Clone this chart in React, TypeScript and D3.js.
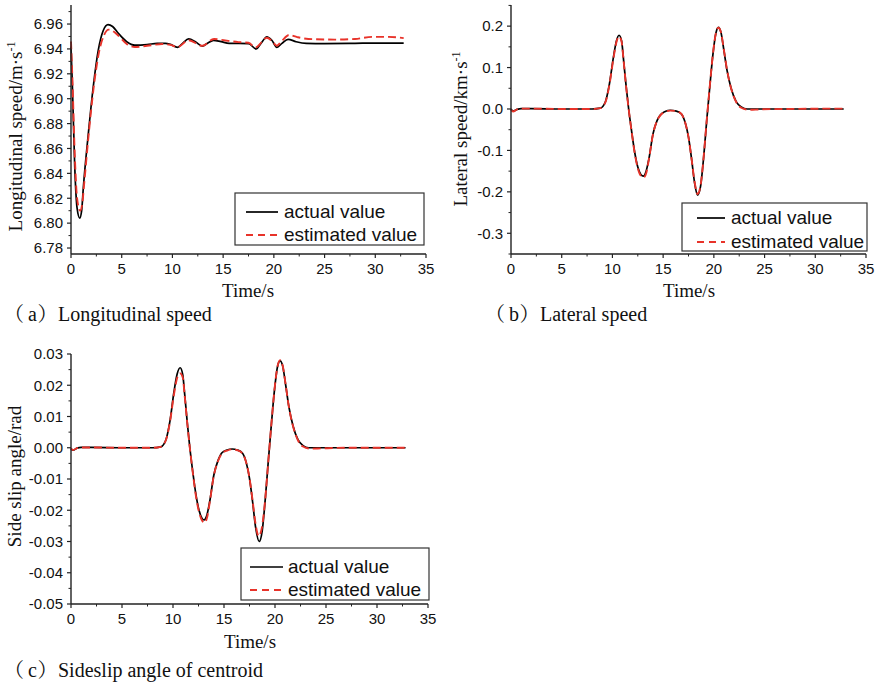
import React from 'react';
import * as d3 from 'd3';

type Pt = [number, number];

// ---------- shared axis data ----------
const X_TICKS = [0, 5, 10, 15, 20, 25, 30, 35];
const X_MINOR = [2.5, 7.5, 12.5, 17.5, 22.5, 27.5, 32.5];
const X_LABELS = ['0', '5', '10', '15', '20', '25', '30', '35'];
const LEGEND_NAMES = ['actual value', 'estimated value'];

// ---------- (a) longitudinal speed ----------
const LON_TICKS = [6.78, 6.8, 6.82, 6.84, 6.86, 6.88, 6.9, 6.92, 6.94, 6.96];
const LON_MINOR = [6.79, 6.81, 6.83, 6.85, 6.87, 6.89, 6.91, 6.93, 6.95, 6.97];
const LON_LABELS = ['6.78', '6.80', '6.82', '6.84', '6.86', '6.88', '6.90', '6.92', '6.94', '6.96'];
const lonActual: Pt[] = [
  [0, 6.942], [0.13, 6.912], [0.37, 6.845], [0.6, 6.812], [0.86, 6.804], [1.05, 6.81],
  [1.22, 6.829], [1.71, 6.872], [2.2, 6.91], [2.69, 6.939], [3.19, 6.955], [3.65, 6.9595],
  [4.1, 6.958], [4.67, 6.9525], [5.49, 6.9458], [6.3, 6.943], [7.5, 6.9435], [8.5, 6.9445],
  [9.3, 6.9445], [9.8, 6.9437], [10.5, 6.9413], [11.0, 6.9445], [11.6, 6.948], [12.3, 6.9455],
  [12.95, 6.9423], [13.5, 6.9448], [14.05, 6.9469], [14.8, 6.9458], [15.6, 6.9445], [17.5, 6.9443],
  [18.25, 6.94], [18.8, 6.9452], [19.3, 6.9498], [19.8, 6.947], [20.3, 6.9413], [20.8, 6.9445],
  [21.4, 6.9477], [22.2, 6.9458], [23.2, 6.9445], [25, 6.9443], [28, 6.9445], [30, 6.9447], [32.8, 6.9446],
];
const lonEstimated: Pt[] = [
  [0, 6.946], [0.13, 6.918], [0.37, 6.855], [0.6, 6.82], [0.9, 6.81], [1.1, 6.815],
  [1.3, 6.832], [1.75, 6.872], [2.25, 6.91], [2.75, 6.937], [3.25, 6.951], [3.7, 6.9555],
  [4.2, 6.954], [4.7, 6.9505], [5.5, 6.944], [6.3, 6.9415], [7.5, 6.9425], [9.0, 6.944],
  [9.8, 6.9432], [10.5, 6.9415], [11.6, 6.947], [12.95, 6.9425], [14.1, 6.948], [15.2, 6.9468],
  [16.5, 6.9455], [17.5, 6.945], [18.2, 6.9412], [18.8, 6.9455], [19.3, 6.949], [19.8, 6.9465],
  [20.3, 6.9426], [20.8, 6.9465], [21.5, 6.9512], [22.3, 6.9495], [23.4, 6.948], [26, 6.9475],
  [28, 6.948], [29.7, 6.9497], [31.3, 6.9497], [32.8, 6.9487],
];

// ---------- (b) lateral speed ----------
const LAT_TICKS = [-0.3, -0.2, -0.1, 0, 0.1, 0.2];
const LAT_MINOR = [-0.35, -0.25, -0.15, -0.05, 0.05, 0.15, 0.25];
const LAT_LABELS = ['-0.3', '-0.2', '-0.1', '0.0', '0.1', '0.2'];
const latActual: Pt[] = [
  [0, 0], [0.2, -0.005], [0.6, -0.001], [1.0, 0.001], [2, 0.001], [5, 0], [8, 0], [8.8, 0.002],
  [9.3, 0.017], [9.7, 0.06], [10.1, 0.125], [10.4, 0.165], [10.65, 0.178], [10.9, 0.165],
  [11.1, 0.118], [11.35, 0.055], [11.6, 0], [11.9, -0.055], [12.2, -0.105], [12.5, -0.14],
  [12.8, -0.158], [13.05, -0.162], [13.3, -0.152], [13.6, -0.12], [14.0, -0.06], [14.4, -0.028],
  [14.7, -0.015], [15.2, -0.006], [15.7, -0.003], [16.3, -0.005], [16.8, -0.012], [17.2, -0.035],
  [17.5, -0.068], [17.8, -0.12], [18.1, -0.178], [18.4, -0.208], [18.7, -0.185], [19.0, -0.115],
  [19.3, -0.027], [19.6, 0.054], [19.9, 0.13], [20.2, 0.183], [20.45, 0.197], [20.7, 0.185],
  [21.0, 0.14], [21.3, 0.093], [21.7, 0.05], [22.2, 0.018], [22.7, 0.005], [23.3, 0], [25, 0], [32.8, 0],
];
const latEstimated: Pt[] = [
  [0, -0.002], [0.2, -0.006], [0.6, -0.001], [1.0, 0.001], [2, 0.001], [5, 0], [8, 0], [8.8, 0.002],
  [9.3, 0.016], [9.7, 0.058], [10.1, 0.122], [10.4, 0.162], [10.65, 0.175], [10.9, 0.163],
  [11.1, 0.117], [11.35, 0.054], [11.6, 0], [11.9, -0.056], [12.2, -0.107], [12.5, -0.143],
  [12.8, -0.161], [13.1, -0.165], [13.35, -0.153], [13.6, -0.121], [14.0, -0.061], [14.4, -0.028],
  [14.7, -0.016], [15.2, -0.007], [15.7, -0.004], [16.3, -0.005], [16.8, -0.012], [17.2, -0.035],
  [17.5, -0.068], [17.8, -0.12], [18.1, -0.176], [18.4, -0.205], [18.7, -0.183], [19.0, -0.114],
  [19.3, -0.026], [19.6, 0.055], [19.9, 0.131], [20.2, 0.183], [20.45, 0.196], [20.7, 0.185],
  [21.0, 0.141], [21.3, 0.094], [21.7, 0.05], [22.2, 0.017], [22.7, 0.003], [23.5, -0.002],
  [24.5, -0.001], [27, 0], [32.8, 0.001],
];

// ---------- (c) sideslip angle ----------
const SLIP_TICKS = [-0.05, -0.04, -0.03, -0.02, -0.01, 0, 0.01, 0.02, 0.03];
const SLIP_MINOR = [-0.045, -0.035, -0.025, -0.015, -0.005, 0.005, 0.015, 0.025];
const SLIP_LABELS = ['-0.05', '-0.04', '-0.03', '-0.02', '-0.01', '0.00', '0.01', '0.02', '0.03'];
const slipActual: Pt[] = [
  [0, -0.0003], [0.2, -0.0008], [0.6, -0.0001], [1.0, 0.0001], [2, 0.0001], [5, 0], [8, 0],
  [8.8, 0.0003], [9.3, 0.0025], [9.7, 0.0085], [10.1, 0.018], [10.4, 0.0235], [10.7, 0.0256],
  [10.95, 0.0235], [11.15, 0.017], [11.4, 0.008], [11.65, 0], [11.95, -0.008], [12.25, -0.015],
  [12.55, -0.02], [12.85, -0.0226], [13.05, -0.0231], [13.3, -0.0218], [13.6, -0.0172],
  [14.0, -0.0088], [14.4, -0.0042], [14.8, -0.0016], [15.3, -0.0007], [15.8, -0.0004],
  [16.3, -0.0007], [16.8, -0.0017], [17.2, -0.005], [17.5, -0.0098], [17.8, -0.0172],
  [18.1, -0.0255], [18.45, -0.03], [18.75, -0.0265], [19.05, -0.0163], [19.35, -0.004],
  [19.65, 0.0077], [19.95, 0.0185], [20.25, 0.026], [20.5, 0.0278], [20.75, 0.0262],
  [21.05, 0.02], [21.35, 0.0133], [21.75, 0.0072], [22.25, 0.0026], [22.75, 0.0007],
  [23.3, 0], [25, 0], [32.8, 0],
];
const slipEstimated: Pt[] = [
  [0, -0.0002], [0.2, -0.0007], [0.6, -0.0001], [1.0, 0.0001], [2, 0.0001], [5, 0], [8, 0],
  [8.8, 0.0003], [9.3, 0.0024], [9.7, 0.0082], [10.1, 0.0172], [10.45, 0.0228], [10.7, 0.0238],
  [10.95, 0.0226], [11.15, 0.0165], [11.4, 0.0078], [11.65, 0], [11.95, -0.0082], [12.25, -0.0155],
  [12.55, -0.0205], [12.85, -0.0233], [13.1, -0.024], [13.35, -0.0222], [13.6, -0.0175],
  [14.0, -0.009], [14.4, -0.0044], [14.8, -0.0018], [15.3, -0.0009], [15.8, -0.0005],
  [16.3, -0.0008], [16.8, -0.0018], [17.2, -0.005], [17.5, -0.0097], [17.8, -0.0168],
  [18.1, -0.0245], [18.4, -0.0283], [18.7, -0.0258], [19.05, -0.0162], [19.35, -0.004],
  [19.65, 0.0078], [19.95, 0.0186], [20.25, 0.0261], [20.5, 0.028], [20.75, 0.0263],
  [21.05, 0.0201], [21.35, 0.0133], [21.75, 0.0071], [22.25, 0.0024], [22.75, 0.0004],
  [23.5, -0.0003], [24.5, -0.0002], [27, 0], [32.8, 0],
];

const SANS = "'Liberation Sans', Arial, sans-serif";
const SERIF = "'Liberation Serif', 'Times New Roman', 'Noto Serif CJK SC', 'Noto Sans CJK SC', serif";
const RED = '#e8332a';
const AXIS = '#222';

interface PanelProps {
  left: number; right: number; top: number; bottom: number;
  yDomain: [number, number];
  yTicks: number[]; yMinor: number[]; yLabels: string[];
  actual: Pt[]; estimated: Pt[];
  yTitle: string; ySup?: string; yTitleX: number; yTitleY: number;
  xTitleX: number; xTitleY: number;
  legend: { x: number; y: number; w: number; h: number; lx1: number; lx2: number; tx: number; r1: number; r2: number };
  cap: { letter: string; text: string; y: number; p1: number; l: number; p2: number; t: number };
}

function Panel(p: PanelProps) {
  const x = d3.scaleLinear().domain([0, 35]).range([p.left, p.right]);
  const y = d3.scaleLinear().domain(p.yDomain).range([p.bottom, p.top]);
  const line = d3.line<Pt>().x(d => x(d[0])).y(d => y(d[1])).curve(d3.curveMonotoneX);
  const L = p.legend;
  return (
    <g>
      <path d={line(p.actual) || ''} fill="none" stroke="#000" strokeWidth={1.7} />
      <path d={line(p.estimated) || ''} fill="none" stroke={RED} strokeWidth={1.9} strokeDasharray="8,4" />
      {/* axes */}
      <line x1={p.left} x2={p.left} y1={p.top} y2={p.bottom} stroke={AXIS} strokeWidth={1.4} />
      <line x1={p.left} x2={p.right} y1={p.bottom} y2={p.bottom} stroke={AXIS} strokeWidth={1.4} />
      {p.yTicks.map((t, i) => (
        <g key={'yt' + i}>
          <line x1={p.left - 4} x2={p.left} y1={y(t)} y2={y(t)} stroke={AXIS} strokeWidth={1.2} />
          <text x={p.left - 8} y={y(t)} dy="0.35em" textAnchor="end" fontFamily={SANS} fontSize={15} fill="#111">{p.yLabels[i]}</text>
        </g>
      ))}
      {p.yMinor.map((t, i) => (
        <line key={'ym' + i} x1={p.left - 2.5} x2={p.left} y1={y(t)} y2={y(t)} stroke={AXIS} strokeWidth={1} />
      ))}
      {X_TICKS.map((t, i) => (
        <g key={'xt' + i}>
          <line x1={x(t)} x2={x(t)} y1={p.bottom} y2={p.bottom + 4} stroke={AXIS} strokeWidth={1.2} />
          <text x={x(t)} y={p.bottom + 20} textAnchor="middle" fontFamily={SANS} fontSize={15} fill="#111">{X_LABELS[i]}</text>
        </g>
      ))}
      {X_MINOR.map((t, i) => (
        <line key={'xm' + i} x1={x(t)} x2={x(t)} y1={p.bottom} y2={p.bottom + 2.5} stroke={AXIS} strokeWidth={1} />
      ))}
      {/* titles */}
      <text x={p.xTitleX} y={p.xTitleY} textAnchor="middle" fontFamily={SERIF} fontSize={19} fill="#111">Time/s</text>
      <text transform={`translate(${p.yTitleX},${p.yTitleY}) rotate(-90)`} textAnchor="middle" fontFamily={SERIF} fontSize={19} fill="#111">
        {p.yTitle}
        {p.ySup ? <tspan dy={-7} fontSize={12}>{p.ySup}</tspan> : null}
      </text>
      {/* legend */}
      <rect x={L.x} y={L.y} width={L.w} height={L.h} fill="#fff" stroke="#333" strokeWidth={1.2} />
      <line x1={L.lx1} x2={L.lx2} y1={L.r1} y2={L.r1} stroke="#000" strokeWidth={1.7} />
      <text x={L.tx} y={L.r1 + 6} fontFamily={SANS} fontSize={19} fill="#111">{LEGEND_NAMES[0]}</text>
      <line x1={L.lx1} x2={L.lx2} y1={L.r2} y2={L.r2} stroke={RED} strokeWidth={1.9} strokeDasharray="7,5" />
      <text x={L.tx} y={L.r2 + 6} fontFamily={SANS} fontSize={19} fill="#111">{LEGEND_NAMES[1]}</text>
      {/* caption */}
      <text y={p.cap.y} fontFamily={SERIF} fontSize={20} fill="#111">
        <tspan x={p.cap.p1}>（</tspan>
        <tspan x={p.cap.l}>{p.cap.letter}</tspan>
        <tspan x={p.cap.p2}>）</tspan>
        <tspan x={p.cap.t}>{p.cap.text}</tspan>
      </text>
    </g>
  );
}

export default function App() {
  return (
    <svg width={878} height={687} style={{ position: 'absolute', left: 0, top: 0, background: '#fff' }}>
      <rect width={878} height={687} fill="#fff" />
      <Panel
        left={71} right={426} top={5} bottom={254}
        yDomain={[6.7752, 6.9753]}
        yTicks={LON_TICKS} yMinor={LON_MINOR} yLabels={LON_LABELS}
        actual={lonActual} estimated={lonEstimated}
        yTitle="Longitudinal speed/m·s" ySup="-1" yTitleX={21.5} yTitleY={136.5}
        xTitleX={248} xTitleY={297}
        legend={{ x: 235, y: 193, w: 189, h: 52, lx1: 246, lx2: 278, tx: 284, r1: 212, r2: 235 }}
        cap={{ letter: 'a', text: 'Longitudinal speed', y: 321, p1: 4, l: 28, p2: 37.5, t: 58 }}
      />
      <Panel
        left={511} right={866} top={5} bottom={254}
        yDomain={[-0.35, 0.251]}
        yTicks={LAT_TICKS} yMinor={LAT_MINOR} yLabels={LAT_LABELS}
        actual={latActual} estimated={latEstimated}
        yTitle="Lateral speed/km·s" ySup="-1" yTitleX={467} yTitleY={129}
        xTitleX={689} xTitleY={297}
        legend={{ x: 682, y: 203, w: 185, h: 48, lx1: 697, lx2: 725, tx: 731, r1: 218, r2: 242 }}
        cap={{ letter: 'b', text: 'Lateral speed', y: 321, p1: 485, l: 509, p2: 519.5, t: 540 }}
      />
      <Panel
        left={71} right={428} top={354} bottom={604}
        yDomain={[-0.05, 0.03]}
        yTicks={SLIP_TICKS} yMinor={SLIP_MINOR} yLabels={SLIP_LABELS}
        actual={slipActual} estimated={slipEstimated}
        yTitle="Side slip angle/rad" yTitleX={21} yTitleY={476.5}
        xTitleX={250} xTitleY={648}
        legend={{ x: 241, y: 548, w: 188, h: 52, lx1: 250, lx2: 283, tx: 288, r1: 567, r2: 590 }}
        cap={{ letter: 'c', text: 'Sideslip angle of centroid', y: 677, p1: 4, l: 28, p2: 37.5, t: 58 }}
      />
    </svg>
  );
}
